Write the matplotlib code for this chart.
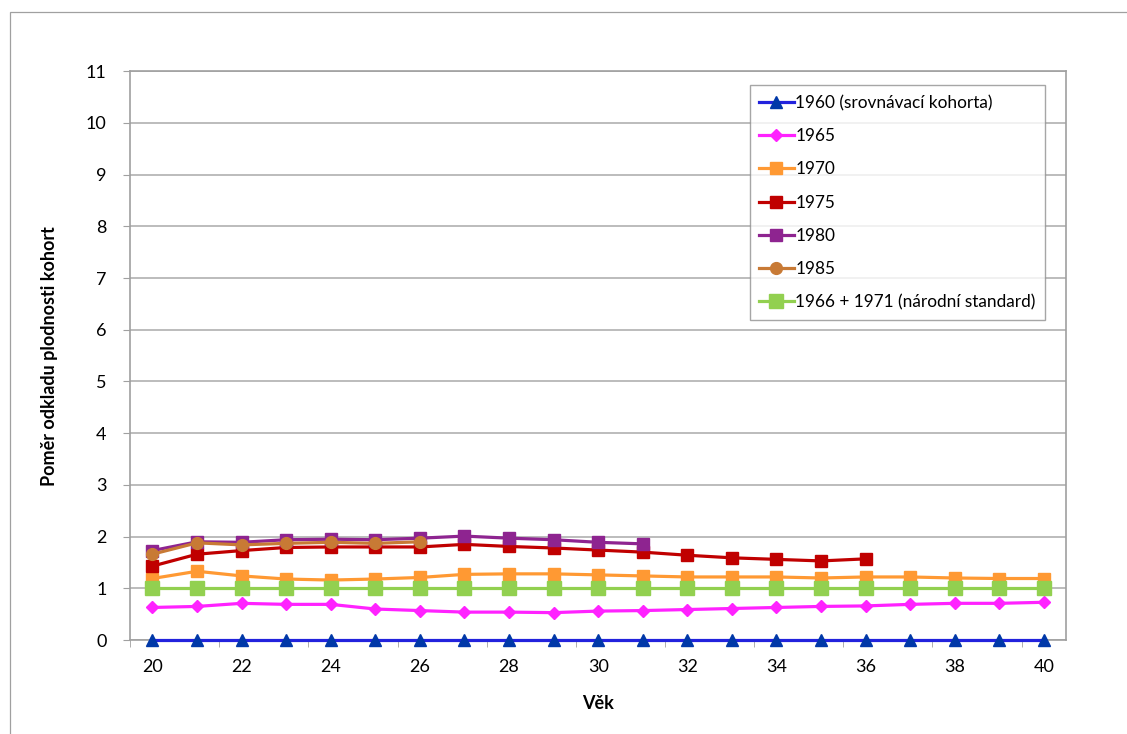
import numpy as np
import matplotlib
matplotlib.use("Agg")
import matplotlib.pyplot as plt
from matplotlib.patches import Rectangle

plt.rcParams['font.family'] = ['Lato', 'DejaVu Sans']

# data
ages = list(range(20, 41))
labels = ['1960 (srovnávací kohorta)', '1965', '1970', '1975', '1980', '1985',
          '1966 + 1971 (národní standard)']

c1960 = [0.0] * 21
c1965 = [0.63, 0.65, 0.71, 0.69, 0.69, 0.60, 0.57, 0.54, 0.54, 0.53, 0.56,
         0.57, 0.59, 0.61, 0.63, 0.65, 0.66, 0.69, 0.71, 0.71, 0.73]
c1970 = [1.19, 1.33, 1.24, 1.18, 1.16, 1.18, 1.21, 1.27, 1.28, 1.28, 1.26,
         1.24, 1.22, 1.22, 1.22, 1.20, 1.22, 1.22, 1.20, 1.19, 1.19]
c1975 = [1.43, 1.66, 1.73, 1.79, 1.80, 1.80, 1.80, 1.85, 1.81, 1.78, 1.74,
         1.70, 1.64, 1.59, 1.56, 1.53, 1.57]
c1980 = [1.73, 1.90, 1.89, 1.94, 1.95, 1.94, 1.97, 2.01, 1.97, 1.94, 1.89, 1.86]
c1985 = [1.66, 1.88, 1.84, 1.87, 1.89, 1.87, 1.90]
standard = [1.0] * 21

series = [c1960, c1965, c1970, c1975, c1980, c1985, standard]
colors = ['#2222dd', '#ff22ff', '#ff9933', '#c00000', '#8e2490', '#c87a35', '#92d050']
mcolors = ['#0038a8', '#ff22ff', '#ff9933', '#c00000', '#8e2490', '#c87a35', '#92d050']
markers = ['^', 'D', 's', 's', 's', 'o', 's']
msizes = [8, 6.5, 8.5, 8.5, 8.5, 8.5, 10]
order = [6, 0, 1, 2, 3, 4, 5]

fig = plt.figure(figsize=(11.27, 7.34), dpi=100)
fig.patches.append(Rectangle((0.0085, -0.1), 1.1, 1.0835, transform=fig.transFigure,
                             fill=False, edgecolor='#a0a0a0', linewidth=0.9))
ax = fig.add_axes([0.1155, 0.128, 0.8305, 0.775])

handles = [None] * len(series)
for i in order:
    vals = series[i]
    x = np.arange(len(vals))
    h, = ax.plot(x, vals, color=colors[i], linewidth=2.3, marker=markers[i],
                 markersize=msizes[i], markerfacecolor=mcolors[i],
                 markeredgecolor=mcolors[i], label=labels[i], zorder=3 + i * 0.01,
                 clip_on=False)
    handles[i] = h

ax.set_xlim(-0.5, 20.5)
ax.set_ylim(0, 11)
ax.set_yticks(range(0, 12))
ax.set_xticks(range(0, 21, 2))
ax.set_xticklabels([str(a) for a in ages[::2]])
ax.set_xticks(np.arange(-0.5, 21, 2), minor=True)
ax.tick_params(axis='x', which='major', length=0, labelsize=13, pad=14)
ax.tick_params(axis='x', which='minor', length=5, color='#a0a0a0')
ax.tick_params(axis='y', length=5, color='#a0a0a0', labelsize=13, pad=12)
ax.grid(axis='y', color='#b0b0b0', linewidth=1.2, zorder=0)
ax.set_axisbelow(True)
for s in ['left', 'bottom', 'right', 'top']:
    ax.spines[s].set_color('#a0a0a0')
    ax.spines[s].set_linewidth(1.2)

ax.set_xlabel('Věk', fontsize=13, fontweight='bold', labelpad=14)
ax.set_ylabel('Poměr odkladu plodnosti kohort', fontsize=13, fontweight='bold', labelpad=20)

leg = ax.legend(handles=handles, loc='upper left', bbox_to_anchor=(0.662, 0.975),
                frameon=True, fancybox=False, edgecolor='#909090', fontsize=12.4,
                handlelength=2.0, handletextpad=0.1, labelspacing=1.0,
                borderpad=0.55, borderaxespad=0)
leg.get_frame().set_linewidth(1.0)

fig.savefig('out.png', dpi=100)
